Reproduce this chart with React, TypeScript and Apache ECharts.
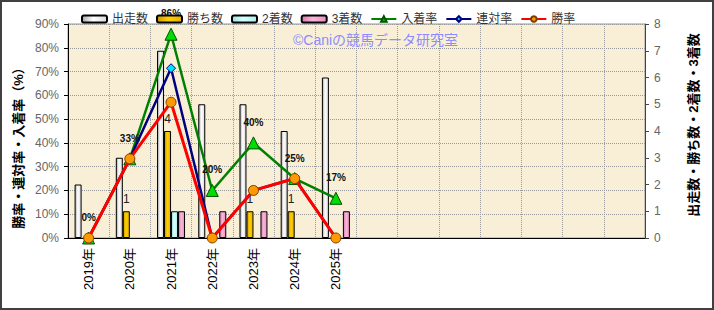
import React, { useEffect, useRef } from "react";
import * as echarts from "echarts";

const years = ["2019年", "2020年", "2021年", "2022年", "2023年", "2024年", "2025年"];
const emptySlots = 7;
const starts = [2, 3, 7, 5, 5, 4, 6];
const wins = [0, 1, 4, 0, 1, 1, 0];
const seconds = [0, 0, 1, 0, 0, 0, 0];
const thirds = [0, 0, 1, 1, 1, 0, 1];
const placeRate = [0, 33.3, 85.7, 20, 40, 25, 16.7];
const quinellaRate = [0, 33.3, 71.4, 0, 20, 25, 0];
const winRate = [0, 33.3, 57.1, 0, 20, 25, 0];
const leftTicks = { min: 0, max: 90, interval: 10 };
const rightTicks = { min: 0, max: 8, interval: 1 };

const FONT = 'Arial, "Noto Sans CJK JP", sans-serif';

const grad = (a: string, b: string, c: string) =>
  new echarts.graphic.LinearGradient(0, 0, 1, 0, [
    { offset: 0, color: a },
    { offset: 0.45, color: b },
    { offset: 1, color: c },
  ]);

export default function App() {
  const ref = useRef<HTMLDivElement>(null);
  useEffect(() => {
    if (!ref.current) return;
    const chart = echarts.init(ref.current, undefined, { renderer: "svg" });
    const categories = [...years, ...Array(emptySlots).fill("")];
    const nz = (arr: number[]) => arr.map((v) => (v === 0 ? "-" : v));
    const barBase = {
      type: "bar",
      yAxisIndex: 1,
      barWidth: 7,
      barGap: "0%",
      z: 2,
    };
    const option: any = {
      animation: false,
      textStyle: { fontFamily: FONT },
      legend: {
        left: 76,
        top: 8,
        itemWidth: 25,
        itemHeight: 7,
        itemGap: 8,
        z: 10,
        textStyle: { fontSize: 12, color: "#333", fontFamily: FONT },
        data: ["出走数", "勝ち数", "2着数", "3着数", "入着率", "連対率", "勝率"],
      },
      grid: {
        left: 68,
        right: 69,
        top: 24,
        bottom: 72,
        show: true,
        backgroundColor: "#f9efd6",
        borderColor: "#999",
        borderWidth: 1,
      },
      xAxis: {
        type: "category",
        data: categories,
        boundaryGap: true,
        axisLine: { lineStyle: { color: "#000", width: 1 } },
        axisTick: { show: false },
        axisLabel: { rotate: 90, fontSize: 13, color: "#000", margin: 10, interval: 0, fontFamily: FONT },
        splitLine: { show: true, interval: 0, lineStyle: { type: "dotted", color: "#9a9a9a" } },
      },
      yAxis: [
        {
          type: "value",
          min: leftTicks.min,
          max: leftTicks.max,
          interval: leftTicks.interval,
          axisLine: { show: true, lineStyle: { color: "#000" } },
          axisTick: { show: true, length: 4, lineStyle: { color: "#000" } },
          axisLabel: { formatter: "{value}%", fontSize: 12, color: "#666", margin: 9, fontFamily: FONT },
          splitLine: { show: true, lineStyle: { type: "dotted", color: "#9a9a9a" } },
        },
        {
          type: "value",
          min: rightTicks.min,
          max: rightTicks.max,
          interval: rightTicks.interval,
          position: "right",
          axisLine: { show: true, lineStyle: { color: "#444" } },
          axisTick: { show: true, length: 4, lineStyle: { color: "#444" } },
          axisLabel: { fontSize: 12, color: "#666", margin: 9, fontFamily: FONT },
          splitLine: { show: false },
        },
      ],
      series: [
        {
          ...barBase,
          name: "出走数",
          data: nz(starts),
          itemStyle: { color: grad("#a8a8a8", "#ffffff", "#d8d8d8"), borderColor: "#000", borderWidth: 1 },
        },
        {
          ...barBase,
          name: "勝ち数",
          data: nz(wins),
          itemStyle: { color: grad("#c89800", "#ffd000", "#e8b000"), borderColor: "#000", borderWidth: 1 },
          label: {
            show: true,
            position: "top",
            distance: 6,
            fontSize: 12,
            color: "#222",
            fontFamily: FONT,
            formatter: (p: any) => (p.value ? String(p.value) : ""),
          },
        },
        {
          ...barBase,
          name: "2着数",
          data: nz(seconds),
          itemStyle: { color: grad("#9ee0e0", "#d8ffff", "#b0ecec"), borderColor: "#000", borderWidth: 1 },
        },
        {
          ...barBase,
          name: "3着数",
          data: nz(thirds),
          itemStyle: { color: grad("#d87ab0", "#f8b8d8", "#e890c0"), borderColor: "#000", borderWidth: 1 },
        },
        {
          type: "line",
          name: "入着率",
          yAxisIndex: 0,
          data: placeRate,
          z: 3,
          symbol: "triangle",
          symbolSize: 12,
          lineStyle: { color: "#008000", width: 2.5 },
          itemStyle: { color: "#00dd00", borderColor: "#005000", borderWidth: 1 },
          label: {
            show: true,
            position: "top",
            distance: 9,
            fontSize: 10,
            fontWeight: "bold",
            color: "#111",
            fontFamily: FONT,
            formatter: (p: any) => `${Math.round(p.value)}%`,
          },
        },
        {
          type: "line",
          name: "連対率",
          yAxisIndex: 0,
          data: quinellaRate,
          z: 4,
          symbol: "diamond",
          symbolSize: 9,
          lineStyle: { color: "#000080", width: 2.5 },
          itemStyle: { color: "#00e0ff", borderColor: "#000080", borderWidth: 1 },
        },
        {
          type: "line",
          name: "勝率",
          yAxisIndex: 0,
          data: winRate,
          z: 5,
          symbol: "circle",
          symbolSize: 10,
          lineStyle: { color: "#ff0000", width: 3 },
          itemStyle: { color: "#ff9900", borderColor: "#7a4000", borderWidth: 1 },
        },
      ],
      graphic: [
        {
          type: "rect",
          shape: { x: 1, y: 1, width: 712, height: 308 },
          style: { fill: "none", stroke: "#404040", lineWidth: 2 },
          z: 100,
        },
        {
          type: "text",
          x: 293,
          y: 40,
          z: 50,
          style: {
            text: "©Caniの競馬データ研究室",
            fill: "#8c8cff",
            fontSize: 14,
            fontFamily: FONT,
            align: "left",
            verticalAlign: "middle",
          },
        },
        {
          type: "text",
          x: 18,
          y: 145,
          rotation: Math.PI / 2,
          style: {
            text: "勝率・連対率・入着率（%）",
            fill: "#000",
            fontSize: 13,
            fontWeight: "bold",
            fontFamily: FONT,
            align: "center",
            verticalAlign: "middle",
          },
        },
        {
          type: "text",
          x: 693,
          y: 125,
          rotation: Math.PI / 2,
          style: {
            text: "出走数・勝ち数・2着数・3着数",
            fill: "#000",
            fontSize: 13,
            fontWeight: "bold",
            fontFamily: FONT,
            align: "center",
            verticalAlign: "middle",
          },
        },
      ],
    };
    chart.setOption(option);
    return () => chart.dispose();
  }, []);
  return (
    <div
      ref={ref}
      style={{ position: "absolute", left: 0, top: 0, width: 714, height: 310, background: "#fff" }}
    />
  );
}
